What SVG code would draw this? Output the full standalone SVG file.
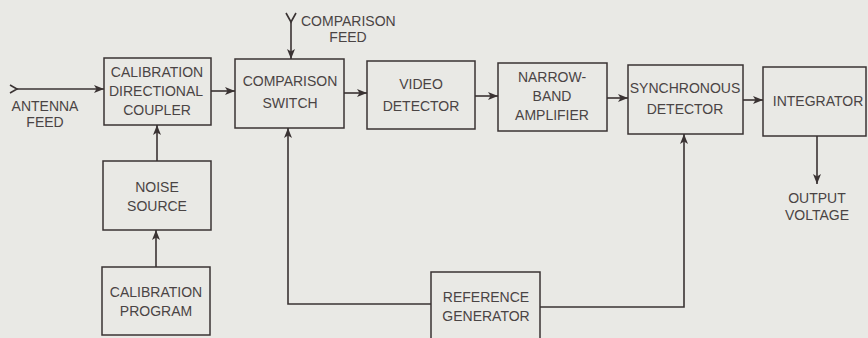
<svg xmlns="http://www.w3.org/2000/svg" width="868" height="338" viewBox="0 0 868 338">
<defs>
<marker id="ah" viewBox="0 0 10 8" refX="10" refY="4" markerWidth="10" markerHeight="8" markerUnits="userSpaceOnUse" orient="auto">
<path d="M0,0 L10,4 L0,8 L2.5,4 Z" fill="#3a3333"/>
</marker>
<style>
.bx{fill:none;stroke:#3a3333;stroke-width:1.5}
.ln{fill:none;stroke:#3a3333;stroke-width:1.6}
.ar{fill:none;stroke:#3a3333;stroke-width:1.6;marker-end:url(#ah)}
text{font-family:"Liberation Sans",Arial,sans-serif;font-size:14px;fill:#4a4444;text-anchor:middle}
</style>
</defs>
<rect width="868" height="338" fill="#e9e9e5"/>
<g id="antenna">
<path class="ln" d="M10,85 L17,89 L10,93"/>
<text x="45" y="111">ANTENNA</text>
<text x="45" y="127">FEED</text>
</g>
<g id="coupler">
<rect class="bx" x="104" y="58" width="107" height="67"/>
<text x="157" y="77">CALIBRATION</text>
<text x="156" y="96">DIRECTIONAL</text>
<text x="157" y="115">COUPLER</text>
</g>
<g id="compfeed">
<path class="ln" d="M286,13 L291,22 L296,13"/>
<text x="301" y="26" style="text-anchor:start">COMPARISON</text>
<text x="348" y="42">FEED</text>
</g>
<g id="switch">
<rect class="bx" x="235" y="59" width="109" height="69"/>
<text x="290" y="86">COMPARISON</text>
<text x="290" y="108">SWITCH</text>
</g>
<g id="video">
<rect class="bx" x="367" y="61" width="108" height="68"/>
<text x="421" y="89">VIDEO</text>
<text x="421" y="111">DETECTOR</text>
</g>
<g id="narrow">
<rect class="bx" x="498" y="63" width="109" height="68"/>
<text x="552" y="82">NARROW-</text>
<text x="552" y="101">BAND</text>
<text x="552" y="120">AMPLIFIER</text>
</g>
<g id="sync">
<rect class="bx" x="628" y="65" width="115" height="69"/>
<text x="685" y="93">SYNCHRONOUS</text>
<text x="685" y="114">DETECTOR</text>
</g>
<g id="integrator">
<rect class="bx" x="763" y="67" width="103" height="69"/>
<text x="818" y="106">INTEGRATOR</text>
</g>
<g id="output">
<text x="817" y="203">OUTPUT</text>
<text x="817" y="220">VOLTAGE</text>
</g>
<g id="noise">
<rect class="bx" x="103" y="161" width="108" height="69"/>
<text x="157" y="192">NOISE</text>
<text x="157" y="211">SOURCE</text>
</g>
<g id="program">
<rect class="bx" x="102" y="267" width="108" height="68"/>
<text x="156" y="297">CALIBRATION</text>
<text x="156" y="316">PROGRAM</text>
</g>
<g id="refgen">
<rect class="bx" x="431" y="272" width="109" height="70"/>
<text x="486" y="302">REFERENCE</text>
<text x="486" y="321">GENERATOR</text>
</g>
<g id="connectors">
<path class="ar" d="M17,89 L104,89"/>
<path class="ar" d="M211,91 L235,91"/>
<path class="ar" d="M291,22 L291,59"/>
<path class="ar" d="M344,93 L367,93"/>
<path class="ar" d="M475,96 L498,96"/>
<path class="ar" d="M607,98 L628,98"/>
<path class="ar" d="M743,100 L763,100"/>
<path class="ar" d="M817,136 L817,184"/>
<path class="ar" d="M157,161 L157,125"/>
<path class="ar" d="M156,267 L156,230"/>
<path class="ar" d="M431,304 L288,304 L288,128"/>
<path class="ar" d="M540,307 L684,307 L684,134"/>
</g>
</svg>
